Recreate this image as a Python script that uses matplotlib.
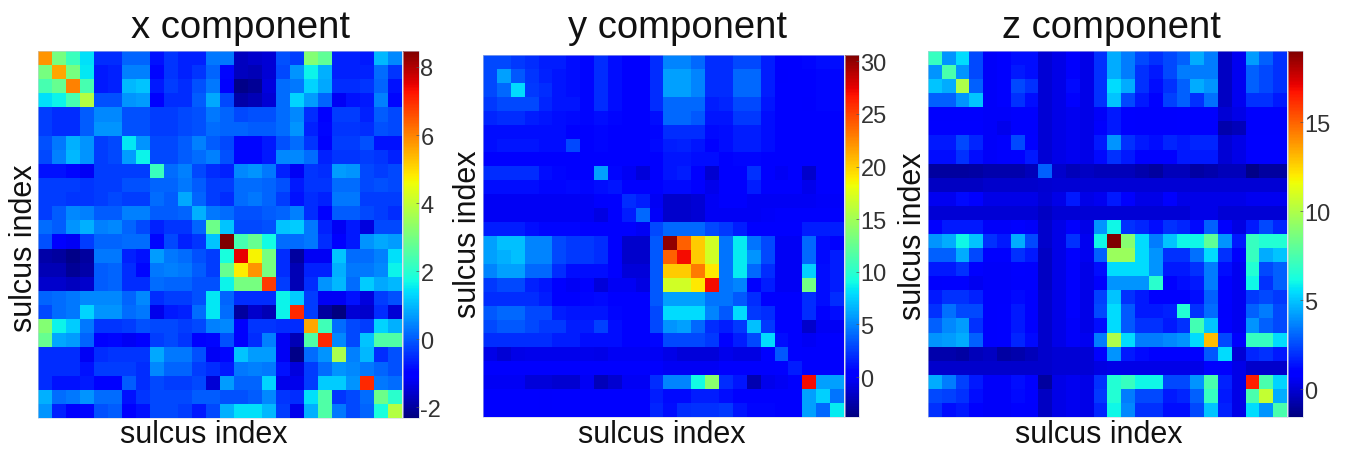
import matplotlib
matplotlib.use("Agg")
import matplotlib.pyplot as plt
import numpy as np

plt.rcParams['font.family'] = ['Liberation Sans', 'DejaVu Sans']
plt.rcParams['axes.unicode_minus'] = False

x_component = [
[5.8,3.0,2.2,1.4,-.5,-.5,.1,.1,-.8,-.4,-.6,-.6,.3,.3,-1.7,-1.6,-1.5,-.1,-.3,3.2,2.7,-.6,-.6,-.7,1,.5],
[3.0,5.6,3,1.5,-.7,-.6,.4,.4,-.9,-.4,-.6,-.4,.1,-.9,-1.7,-1.8,-1.5,-.2,.6,1.6,.9,-.6,-.6,-.6,.2,-.4],
[2.4,2.8,6,2.4,-.7,-.6,1,1.1,-.7,-.3,-.5,-.1,.3,-1,-2.2,-2.1,-1.4,.2,.3,1.3,.8,-.5,-.5,-.4,.1,-.8],
[1.4,1.6,2.4,3.8,-.1,-.1,.6,.7,-1.1,-.5,-.5,0,.8,-.2,-1.9,-1.8,-1.5,.2,1.3,.7,.1,-1.2,-.8,-.7,.4,-.9],
[-.3,-.5,-.5,0,.5,.5,-.1,-.1,-.3,-.3,-.2,-.1,.3,.1,-.2,-.1,-.1,.2,.5,-.5,-1,-.3,-.3,-.6,0,-.2],
[-.3,-.5,-.5,0,.6,.6,-.1,-.1,-.3,-.3,-.2,-.1,.2,.1,.1,0,0,.2,.6,-.6,-.9,-.4,-.4,-.5,-.1,-.2],
[-.1,.3,.9,.6,-.3,-.2,1.5,.6,-.2,-.2,0,.4,0,-.2,-.9,-.9,-.7,-.1,.2,-.4,-1.1,-.3,-.3,-.1,-.8,-.8],
[-.2,.4,1,.6,-.3,-.2,.7,1.6,-.2,-.2,0,.2,.4,-.1,-.9,-.9,-.7,.5,.5,.2,-.6,-.4,-.4,-.3,-.4,-.6],
[-.8,-.8,-.9,-1.2,-.3,-.3,-.3,-.3,2.2,.2,.4,-.2,-.5,-.6,.5,.6,.3,-.6,-1.2,-.4,-.5,.7,.6,-.2,-.3,-.2],
[-.3,-.3,-.3,-.4,-.3,-.3,-.1,-.1,.1,.1,.3,0,-.3,-.3,.2,.2,.1,-.1,-.7,-.4,-.4,.2,.2,-.2,-.1,-.2],
[-.3,-.3,-.4,-.4,-.3,-.2,-.3,-.3,.2,0,.8,.1,-.3,-.5,.2,.3,.1,-.3,-.8,-.5,-.6,.3,.3,-.3,-.3,-.3],
[-.3,0,.5,.4,0,0,.4,.4,0,0,.1,.9,.3,.2,-.1,-.1,0,.1,.4,-.5,-1,0,0,-.2,-.3,-.5],
[.2,0,.6,.9,.4,.5,.1,-.2,-.6,-.4,-.4,.1,2.9,1.1,-.2,-.2,-.1,1.1,1.2,.3,-.6,-1.2,-.7,-1.4,-.2,-.2],
[-.1,-1,-1.2,-.3,.1,.1,.2,.2,-.9,-.2,-.6,-.4,1.1,8.5,2.4,2.8,1.7,.2,.2,.3,-.5,-1,-.7,.6,.8,.7],
[-1.9,-2,-2.2,-2,.3,.3,-.6,-.8,.7,.3,.2,-.1,-.3,1.8,7.5,4.7,3,-.5,-2,-1.2,-1.2,1.1,.2,.2,.4,1.4],
[-1.8,-1.8,-2.1,-1.9,0,.1,-.5,-.9,.3,.4,.3,0,-.3,2.8,4.8,5.8,3,-.5,-1.8,-.6,-.6,.9,.3,.3,.5,1.6],
[-1.6,-1.6,-1.7,-1.6,0,.1,-.5,-.5,.2,.1,.1,-.1,-.1,1.6,3,3,6.8,-.3,-1.8,-.5,.6,1,.2,1.2,.8,1],
[.1,.2,.3,.5,.5,.5,.1,.5,-.5,-.3,-.3,-.1,1.5,.1,-.5,-.5,-.5,1.6,1.2,-.3,-1.2,-1.2,-.8,-1.4,-.3,-.1],
[-.2,.2,.3,1.3,.6,.6,.2,.3,-1.3,-.7,-.6,.2,1.5,.2,-2,-1.6,-1.8,1.6,7,-.3,-2,-2.3,-1.5,-1.6,-.5,-1.5],
[3.2,1.6,1.2,.3,-.4,-.4,-.3,-.1,-.2,-.2,-.3,-.2,.4,.5,-1.1,-.4,-.4,-.5,-.5,5.6,2.3,.2,-.2,-.3,1.3,.9],
[2.8,.8,.7,.1,-1,-.9,-1.2,-1,-.3,-.2,-.4,-1,-.9,-.1,-1.1,-.5,.4,-1.2,-1.8,2.5,7,.5,-.2,1.1,2.5,2.5],
[-.5,-.5,-.5,-1.2,-.5,-.4,-.4,-.4,.8,.3,.3,-.1,-1.2,-.9,1.1,.7,.7,-1.2,-2.2,.2,.6,3.7,.4,1,-.5,-.1],
[-.5,-.5,-.5,-.8,-.3,-.3,-.3,-.5,.5,.1,.1,-.3,-.5,-.7,.3,.4,.3,-.8,-1.4,-.3,.2,.6,.5,.3,.1,-.1],
[-.5,-.8,-.8,-.7,-1,-1,0,-.5,-.2,-.3,-.3,-.2,-1.5,.7,.1,.1,1.3,-1.3,-1.3,-.3,1.2,1.2,.6,7,.3,.2],
[.9,.2,.3,.6,.2,.2,-.8,-.4,-.2,-.2,-.2,0,0,-.1,-.1,0,.5,-.4,-.5,1.4,2.5,-.4,-.2,.2,2.9,2],
[.6,-.6,-1,-.9,-.1,0,-1,-.8,-.2,-.2,-.3,-.7,-.2,.9,1.4,1.4,1,-.3,-1.3,.9,2.5,.3,-.2,.1,1.8,3.8],
]

y_component = [
[3,3,2.5,2,1.5,1.5,1,.7,2,1,.3,.3,2,5,5,4,2,2,3,3,1.5,.2,.5,.7,1,1],
[3,6,3.5,2.3,1.7,1.2,1,.7,2,1,.3,.3,2,6,6,5,2,2,4,4,1.5,0,.3,.5,.7,.7],
[3,4,8,2.5,2,1.2,1,.7,2,1,.3,.3,2,6,6,5,2,2,4,4,1.5,.2,.3,.5,.7,.7],
[2.5,3,3,3,1.8,1.2,1.2,.7,2,1,.3,.3,2,4,4,4,1.5,1.8,3,3,1.2,.2,.3,0,.7,.7],
[1.8,2,2,1.5,1.3,1,.9,.7,1,.7,.3,.2,1,4,4,3.5,1.3,1.3,2.5,2.5,1,.2,.3,.1,.5,.5],
[1,1,1,1,1,1,.5,.5,.7,.5,.3,.3,.7,2,2,2,.8,1,1.5,1.5,1,.3,.3,.2,.5,.5],
[1,1.2,1.3,1.3,1,1,3,.5,.7,.6,.4,.4,.8,1.5,1.7,1.2,.5,1,1.5,1.5,1,.3,.3,.2,.5,.5],
[.3,.3,.3,.3,.3,.3,.5,.5,.5,.3,.3,.3,.3,1.3,1.3,1,1,.5,.7,.7,.5,.2,.2,.2,.3,.3],
[2,2,2,2,1,.7,.5,.5,6,.7,-.2,-1,.5,1.3,1.5,.6,-1.3,.3,.5,2.2,.3,-.3,.1,-1.5,.5,.5],
[1,1,1,1,.7,.7,.9,.7,1,1.3,.3,.2,.5,.8,.8,.5,-.5,.5,.5,1.5,.5,.2,.2,-.5,.5,.5],
[-.3,-.3,-.3,-.3,-.2,-.2,-.2,-.2,0,.4,2,1.5,-.2,-1.5,-1.5,-1.2,-.3,0,0,-.2,-.2,-.2,-.2,-.2,-.1,-.1],
[-.2,-.2,-.2,-.2,-.2,-.2,-.2,-.2,-.8,.4,1.5,4,-.1,-1.5,-1.5,-1.2,-.2,-.2,-.2,-.2,-.1,0,0,0,0,0],
[1.5,1.5,1.5,1,.7,.7,.7,.5,.5,.5,.2,-.2,3,4,4,4,3,2.5,1.5,.5,.5,.3,.3,1.5,1.5,1.5],
[6,7,7,5,5,3,2.5,2.5,2,.5,-1.5,-1.5,3.5,30,24,20,17,4.5,8.5,4.5,3,-.3,-.3,4,.8,.5],
[6,6.5,7,5,5,3,2.5,2.5,2,.5,-1.5,-1.5,3.5,24,27,20,17,4.5,8.5,5.5,3,-.3,-.3,4,.8,1.5],
[5,6,6,4,4,2,1,1,1,.5,-1,-1,3.5,20,20,23,19,4.5,8.5,4,2,-.3,-.3,7.5,1,1.5],
[2.5,3,3,1.7,1.3,.5,-.3,.5,-1,-.3,-.2,-.8,3.5,17,17,19,27,4.5,5,.5,1.5,-.3,-.3,13,1,1.5],
[2,2,2,2,1.5,.5,.5,.7,.8,.5,.3,.2,3.5,6,6,6,4.5,4.5,3.5,2,.5,.2,.2,2,1,2],
[3.5,4,4,3,3,1.5,1.3,1.3,1.3,.7,.3,.3,3,8,8,8,5,3.5,8,2.5,2,.3,.3,2,.5,1],
[3,3.5,3.5,3,2.5,2.5,1.5,1.5,2.7,1,.3,.3,3,5.5,6,4,2,1.5,2.5,7,2.5,.3,.3,-1.5,-.2,-.2],
[2,2,2,2,2,1.5,1.5,1,1,1,.3,.3,.7,3,3,3,2.5,.5,1.5,3,8,1,.3,-.3,0,.3],
[-.7,-1.2,-.7,-.5,-.5,-.5,-.5,-.5,-.7,-.3,-.2,-.2,-.3,-.7,-1.1,-1,-1,-.5,-.8,-.8,.3,3.5,.3,0,0,0],
[0,0,0,0,0,0,0,0,0,0,0,0,0,-.3,-.3,-.2,-.2,0,0,0,0,.3,1.5,0,0,0],
[-.3,-.3,-.3,-1,-1,-1.3,-1.3,-.3,-2,-1.3,-.3,-.3,2,5,5,9,14,2,1.3,-2.2,-.5,-.3,0,27,6,6],
[.3,.3,.3,.3,0,.3,.3,.3,.3,.3,.3,.3,1.5,.8,.8,1.5,1.5,1,.3,.3,.5,.3,.5,6,7.5,4.5],
[.3,.3,.3,.3,0,.3,.3,.3,.3,.3,.3,.3,1.8,1,2,2.2,2.2,2.5,1.2,.7,.7,.3,.5,6,4,8.5],
]

z_component = [
[7,4,5.5,2.5,.6,1,1.3,1.3,0,.3,.7,.3,2,4.5,3.5,2.5,2,2.5,3,4.5,3.5,-.3,.5,4.2,3,2],
[4,7.5,4,2.5,.6,1,1.5,1.3,0,.3,.7,.3,2,4.5,3.5,2,1.5,2.5,3.5,3.5,3.5,-.3,.5,3,2.5,2],
[5,4.5,10,3,.6,1,2.5,2,0,.3,1.2,.3,2,5.5,4.5,2,1.3,2,3,4.5,4,-.3,.5,3,2.5,2],
[3,3,4,5,.6,1,2,1.3,0,.3,1,.3,2,5,2.5,1.5,.8,2.3,3,2,3.3,-.3,.5,2,2,1.5],
[.7,.7,.7,.7,.6,.6,.7,.7,0,.3,.5,.3,.6,1.5,1,.7,.7,.7,1,.7,.7,0,.3,.7,.7,.7],
[1,1,1,.8,.6,.4,.7,.7,0,.3,.5,.3,.7,1.5,1,.7,.7,.7,1,.7,.7,-.7,-.5,.7,.7,.7],
[1.5,1.5,2.5,1.8,.6,.7,2.5,1,0,.3,.5,.3,1.5,4,2,1.5,1.3,1.8,1.5,1.8,1.8,0,.3,1,1,1],
[1.3,1.3,2,1.3,.6,.7,1,1.5,0,.3,.5,.3,1.2,2,1.5,1,1,1,1.5,1.5,1.5,0,.3,1,1,1],
[-1,-1,-1,-.9,-.7,-.7,-.7,-.5,3,-.2,-.5,-.3,-.5,-.5,-.5,-.7,-1,-.5,-.5,-.9,-.7,-.5,-.5,-1.4,-1,-1],
[-.3,-.3,-.3,-.3,-.2,-.2,-.2,-.2,-.1,0,0,0,0,0,0,0,0,0,0,0,0,0,0,0,0,0],
[.5,.5,1.2,1,.3,.3,.3,.3,0,.3,1.5,.3,.5,1.5,.7,.3,.3,.7,.3,.3,.3,.3,.3,.5,.5,.5],
[0,0,0,0,0,0,0,0,-.3,0,0,0,0,0,0,0,0,0,0,.3,.3,0,0,0,0,0],
[1,1.5,1.5,1.5,.6,.6,1,.6,-.2,.3,.7,.3,4,6,2,1.8,1.3,2,1.8,1.2,3,.7,.2,1.5,2.5,1.8],
[4,4.5,6,5,2,1.5,4.5,2.5,-.2,.3,2,.5,6,19,9,5.5,3.5,5,6,6,8,4,1.5,7,6.5,6.5],
[3,3,4.5,2.5,.8,.8,2,1.5,-.3,.3,1,.5,3,9.5,9.5,5.5,4,2,2,3.3,5.5,2,.7,7,4.5,5],
[1.5,1.5,2,1,.6,.6,1,.7,-.3,.3,.7,.3,1.3,5.5,5.5,5.5,4,1.5,1.5,2,3.5,1.3,.5,6.5,2.5,3],
[.7,1,1,.5,.6,.6,.7,.7,-.3,.3,.7,.3,.7,4,4,4,6.7,1,1.3,1.5,3.5,1,.5,6,2,3],
[1.5,2,2,1.7,.7,.7,1.2,1,-.2,.3,.7,.3,2.3,5,2,1.5,1,1,1,1.3,3,.9,.5,2.2,2.5,2.2],
[2,3.3,2.5,2.5,.7,1,1.5,1,-.2,.3,.7,.3,2.5,5.5,2.8,1.5,1.5,1.7,6.5,2,3.2,.7,.5,3,3.5,2.5],
[3,3.8,4.2,2,.7,.9,1.5,1,-.2,.3,.6,.3,1.3,5.5,2.8,2,2,1.5,2,7.3,5,.9,.5,4,3,2.5],
[4,4.2,4.5,3,.7,.9,1.8,1.2,-.2,.3,.6,.5,3.5,10,5.5,3.5,3.5,3.8,4,5.5,13,2.5,.7,7,7,5.5],
[-.7,-.7,-.9,-.5,-.3,-.9,-.7,-.5,-.2,0,0,0,1,4,1.5,1.2,.8,.9,.9,.8,2.8,5.5,0,1.8,2,1.5],
[-.2,-.2,-.2,-.2,-.2,-.2,-.2,-.2,-.2,0,0,0,.2,.3,.3,.3,.3,.3,.3,.3,.8,.7,.3,-.2,-.2,-.2],
[4.5,3.5,2.3,1.5,.6,.6,1.3,1,-1,.3,.5,.3,2,6.5,7,6,6,2.5,2.5,4,7.5,1.7,.3,16.5,7.5,5.3],
[2.5,2.3,2,1.3,.6,.6,1.2,1,-.3,.3,.5,.3,2.2,6.5,3.5,2.5,2.5,1.5,1.8,3,7,1.5,.3,7.5,10.5,4.5],
[2,1.3,1.5,1,.6,.6,1,.7,-.3,.3,.5,.3,1.8,6,3.8,2,2,1.3,1.3,2.5,5,1.7,.3,5.5,4,7.5],
]

titles = ["x component", "y component", "z component"]
xlabel = "sulcus index"
ylabel = "sulcus index"
limits = [(-2.32, 8.47), (-3.8, 30.6), (-1.57, 19.0)]
ticks = [[-2, 0, 2, 4, 6, 8], [0, 5, 10, 15, 20, 25, 30], [0, 5, 10, 15]]
matrices = [x_component, y_component, z_component]

W, H = 1348, 456
fig = plt.figure(figsize=(W / 100, H / 100), dpi=100, facecolor='white')

def box(l, t, r, b):
    return [l / W, 1 - b / H, (r - l) / W, (b - t) / H]

# left, top, right, bottom, colorbar right, title x, xlabel x, ylabel x, ylabel y (pixels)
layout = [
    (38, 52, 402, 419, 419, 240, 204, 24, 248),
    (483, 56, 844, 418, 859, 677, 662, 468, 234),
    (928, 52, 1287, 418, 1303, 1111, 1099, 913, 236),
]

for M, title, (lo, hi), tk, L in zip(matrices, titles, limits, ticks, layout):
    l, t, r, b, cr, tx, xx, yx, yy = L
    ax = fig.add_axes(box(l, t, r, b))
    im = ax.imshow(np.array(M), cmap='jet', vmin=lo, vmax=hi, aspect='auto',
                   interpolation='nearest')
    ax.set_xticks([])
    ax.set_yticks([])
    for s in ax.spines.values():
        s.set_linewidth(0.4)
        s.set_color('#c8d0e0')
    cax = fig.add_axes(box(r + 1, t, cr, b))
    cb = fig.colorbar(im, cax=cax)
    cb.set_ticks(tk)
    cb.ax.tick_params(length=2.5, width=0.5, direction='in', labelsize=17,
                      labelcolor='#333333', pad=1, color='#555555')
    cb.outline.set_linewidth(0.4)
    cb.outline.set_edgecolor('#c8d0e0')
    fig.text(tx / W, 1 - 28 / H, title, fontsize=27.5, ha='center', va='center', color='#111111')
    fig.text(xx / W, 1 - 435 / H, xlabel, fontsize=22, ha='center', va='center', color='#111111')
    fig.text(yx / W, 1 - yy / H, ylabel, fontsize=22, rotation=90, ha='center', va='center', color='#111111')

fig.savefig('out.png', dpi=100, facecolor='white')
